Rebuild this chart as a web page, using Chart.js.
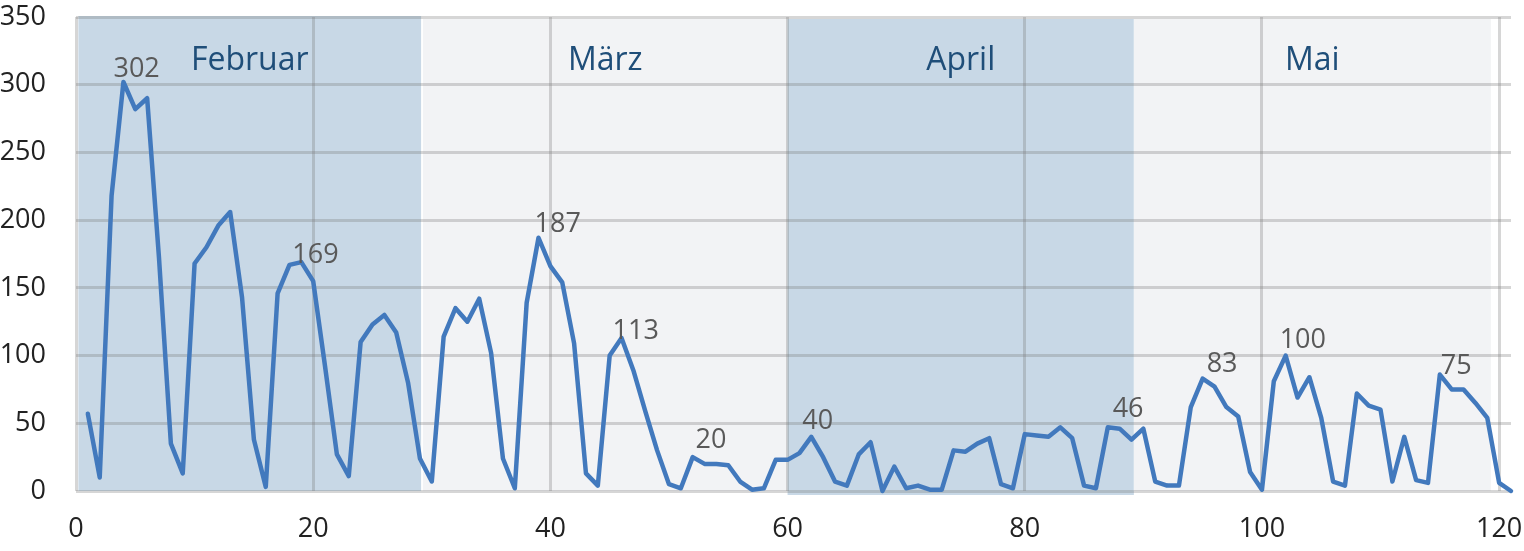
<!DOCTYPE html>
<html>
<head>
<meta charset="utf-8">
<script src="https://cdn.jsdelivr.net/npm/chart.js@4.4.1/dist/chart.umd.min.js"></script>
<style>
  html, body { margin: 0; padding: 0; background: #ffffff; }
  #wrap { width: 1524px; height: 551px; }
</style>
</head>
<body>
<div id="wrap"><canvas id="c" width="1524" height="551"></canvas></div>
<script>
// ---- data ----
const days = Array.from({length: 121}, (_, i) => i + 1);
const values = [
  57, 10, 218, 302, 282, 290, 172, 35, 13, 168,
  180, 196, 206, 143, 38, 3, 146, 167, 169, 155,
  92, 27, 11, 110, 123, 130, 117, 80, 24, 7,
  114, 135, 125, 142, 102, 24, 2, 139, 187, 166,
  154, 109, 13, 4, 100, 113, 89, 59, 30, 5,
  2, 25, 20, 20, 19, 7, 1, 2, 23, 23,
  28, 40, 25, 7, 4, 27, 36, 0, 18, 2,
  4, 1, 1, 30, 29, 35, 39, 5, 2, 42,
  41, 40, 47, 39, 4, 2, 47, 46, 38, 46,
  7, 4, 4, 62, 83, 77, 62, 55, 14, 1,
  81, 100, 69, 84, 54, 7, 4, 72, 63, 60,
  7, 40, 8, 6, 86, 75, 75, 65, 54, 6,
  0
];
const labelDays = [4, 19, 39, 46, 53, 62, 88, 95, 102, 116];
const months = ['Februar', 'März', 'April', 'Mai'];
const monthStart = [0.2, 29.25, 60, 89.2];
const monthEnd = [29.1, 60, 89.2, 119.3];
const xTicks = [0, 20, 40, 60, 80, 100, 120];
const yTicks = [0, 50, 100, 150, 200, 250, 300, 350];

// ---- styles ----
const FONT = '"Open Sans", "DejaVu Sans", sans-serif';
const bandColors = ['#c8d8e6', '#f2f3f5', '#c8d8e6', '#f2f3f5'];
const gridColor = 'rgba(120,120,120,0.3)';
// per-label text offsets in pixels (style only)
const labelDx = [-10, -9, -4, -9, -9, -9, -7, 4, -6, -11];
const labelDy = [-5, 1, -6, 1, -16, -8, -12, -7, -8, -15];

const bandsPlugin = {
  id: 'bands',
  beforeDraw(chart) {
    const {ctx, chartArea: a, scales: {x}} = chart;
    ctx.save();
    months.forEach((m, i) => {
      const x0 = x.getPixelForValue(monthStart[i]);
      const x1 = x.getPixelForValue(monthEnd[i]);
      const top = i === 0 ? a.top - 1 : a.top + 2;
      const bottom = i === 2 ? a.bottom + 4 : a.bottom;
      ctx.fillStyle = bandColors[i];
      ctx.fillRect(x0, top, x1 - x0, bottom - top);
    });
    ctx.restore();
  },
  beforeDatasetsDraw(chart) {
    const {ctx, scales: {x}} = chart;
    ctx.save();
    ctx.font = '32px ' + FONT;
    ctx.fillStyle = '#1f4e79';
    ctx.textAlign = 'center';
    ctx.textBaseline = 'alphabetic';
    months.forEach((m, i) => {
      const cx = (x.getPixelForValue(monthStart[i]) + x.getPixelForValue(monthEnd[i])) / 2;
      ctx.fillText(m, cx, 70);
    });
    ctx.restore();
  },
  afterDatasetsDraw(chart) {
    const {ctx, scales: {x, y}} = chart;
    ctx.save();
    ctx.font = '27px ' + FONT;
    ctx.fillStyle = '#595959';
    ctx.textAlign = 'left';
    ctx.textBaseline = 'alphabetic';
    labelDays.forEach((d, k) => {
      const i = days.indexOf(d);
      const px = x.getPixelForValue(d);
      const py = y.getPixelForValue(values[i]);
      ctx.fillText(String(values[i]), px + labelDx[k], py + labelDy[k]);
    });
    ctx.restore();
  }
};

function build() {
  new Chart(document.getElementById('c'), {
    type: 'line',
    data: {
      datasets: [{
        data: days.map((d, i) => ({x: d, y: values[i]})),
        borderColor: '#4279bd',
        borderWidth: 4.5,
        pointRadius: 0,
        tension: 0,
        fill: false,
        borderJoinStyle: 'round',
        borderCapStyle: 'round',
        clip: 6
      }]
    },
    options: {
      responsive: false,
      animation: false,
      devicePixelRatio: 1,
      layout: {padding: {top: 17, right: 13, left: 0, bottom: 0}},
      plugins: {legend: {display: false}, tooltip: {enabled: false}},
      scales: {
        x: {
          type: 'linear', min: 0, max: 121,
          afterBuildTicks: s => { s.ticks = xTicks.map(v => ({value: v})); },
          afterFit: s => { s.height = 60; s.paddingLeft = 0; s.paddingRight = 0; },
          grid: {color: gridColor, lineWidth: 3, drawTicks: false},
          border: {display: false},
          ticks: {padding: 22, color: '#222222', font: {family: FONT, size: 27}, maxRotation: 0, autoSkip: false}
        },
        y: {
          type: 'linear', min: 0, max: 350,
          afterBuildTicks: s => { s.ticks = yTicks.map(v => ({value: v})); },
          afterFit: s => { s.width = 76; s.paddingTop = 0; s.paddingBottom = 0; },
          grid: {color: gridColor, lineWidth: 3, drawTicks: false},
          border: {display: false},
          ticks: {padding: 30, color: '#222222', font: {family: FONT, size: 27}}
        }
      }
    },
    plugins: [bandsPlugin]
  });
}
if (document.fonts && document.fonts.load) {
  Promise.all([document.fonts.load('27px "Open Sans"'), document.fonts.load('32px "Open Sans"')]).then(build, build);
} else { build(); }
</script>
</body>
</html>
